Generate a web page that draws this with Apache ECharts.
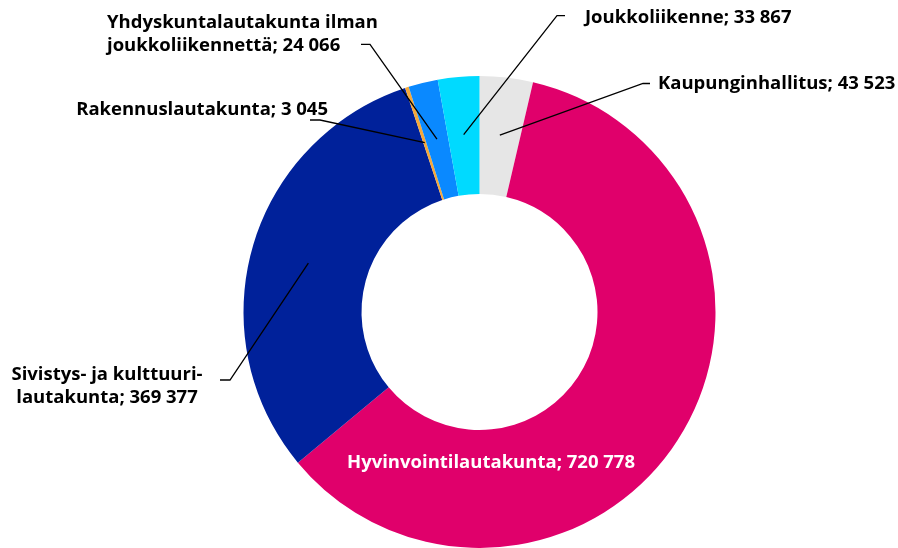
<!DOCTYPE html>
<html><head><meta charset="utf-8">
<script src="https://cdn.jsdelivr.net/npm/echarts@6/dist/echarts.min.js"></script>
<style>html,body{margin:0;padding:0;background:#fff}#c{width:898px;height:548px}</style>
</head><body><div id="c"></div>
<script>
const categories = ['Kaupunginhallitus', 'Hyvinvointilautakunta', 'Sivistys- ja kulttuuri-\nlautakunta', 'Rakennuslautakunta', 'Yhdyskuntalautakunta ilman\njoukkoliikennettä', 'Joukkoliikenne'];
const values = [43523, 720778, 369377, 3045, 24066, 33867];
const palette = ['#E6E6E6', '#E0006B', '#00219A', '#F5A83A', '#0A89FF', '#00DAFF'];

// label placement (layout only)
const labelSpec = [
  {x: 658, y: 84, align: 'left', elbow: [643, 83.5], end: [650, 83.5]},
  {x: 491, y: 463, align: 'center', inside: true},
  {x: 107, y: 386, align: 'center', elbow: [230, 380], end: [220, 380]},
  {x: 328, y: 110, align: 'right', elbow: [320, 120], end: [310, 120]},
  {x: 107, y: 34, align: 'left', elbow: [370, 44.3], end: [361, 44.3]},
  {x: 585, y: 18, align: 'left', elbow: [557, 15.7], end: [565, 15.7]}
];

const CX = 479.5, CY = 312, R_IN = 118, R_OUT = 236, R_LINE = 178;
const total = values.reduce((a, b) => a + b, 0);
const midAngles = [];
let cum = 0;
values.forEach(v => { midAngles.push((cum + v / 2) / total * 2 * Math.PI); cum += v; });

function fmt(n) { return String(n).replace(/\B(?=(\d{3})+(?!\d))/g, ' '); }

const chart = echarts.init(document.getElementById('c'), null, {renderer: 'canvas'});
chart.setOption({
  animation: false,
  series: [{
    type: 'pie',
    z: 2,
    center: [CX, CY],
    radius: [R_IN, R_OUT],
    startAngle: 90,
    clockwise: true,
    itemStyle: {borderWidth: 0},
    label: {show: false},
    labelLine: {show: false},
    emphasis: {disabled: true},
    data: categories.map((name, i) => ({name, value: values[i], itemStyle: {color: palette[i]}}))
  }, {
    type: 'pie',
    z: 5,
    silent: true,
    center: [CX, CY],
    radius: [R_IN, R_OUT],
    startAngle: 90,
    clockwise: true,
    avoidLabelOverlap: false,
    itemStyle: {color: 'rgba(0,0,0,0)', borderWidth: 0},
    label: {
      show: true,
      position: 'outside',
      fontFamily: 'Open Sans',
      fontWeight: 'bold',
      fontSize: 18.5,
      lineHeight: 23,
      color: '#000',
      formatter: p => p.name + '; ' + fmt(p.value)
    },
    labelLine: {show: true, lineStyle: {color: '#000', width: 1.3}},
    emphasis: {disabled: true},
    data: categories.map((name, i) => ({
      name, value: values[i],
      label: labelSpec[i].inside ? {color: '#fff'} : {},
      labelLine: labelSpec[i].inside ? {show: false} : {}
    })),
    labelLayout: function (params) {
      const i = params.dataIndex;
      const s = labelSpec[i];
      const res = {x: s.x, y: s.y, align: s.align, verticalAlign: 'middle', hideOverlap: false};
      if (!s.inside) {
        const a = midAngles[i];
        const start = [CX + R_LINE * Math.sin(a), CY - R_LINE * Math.cos(a)];
        res.labelLinePoints = [start, s.elbow, s.end];
      }
      return res;
    }
  }]
});
</script></body></html>
